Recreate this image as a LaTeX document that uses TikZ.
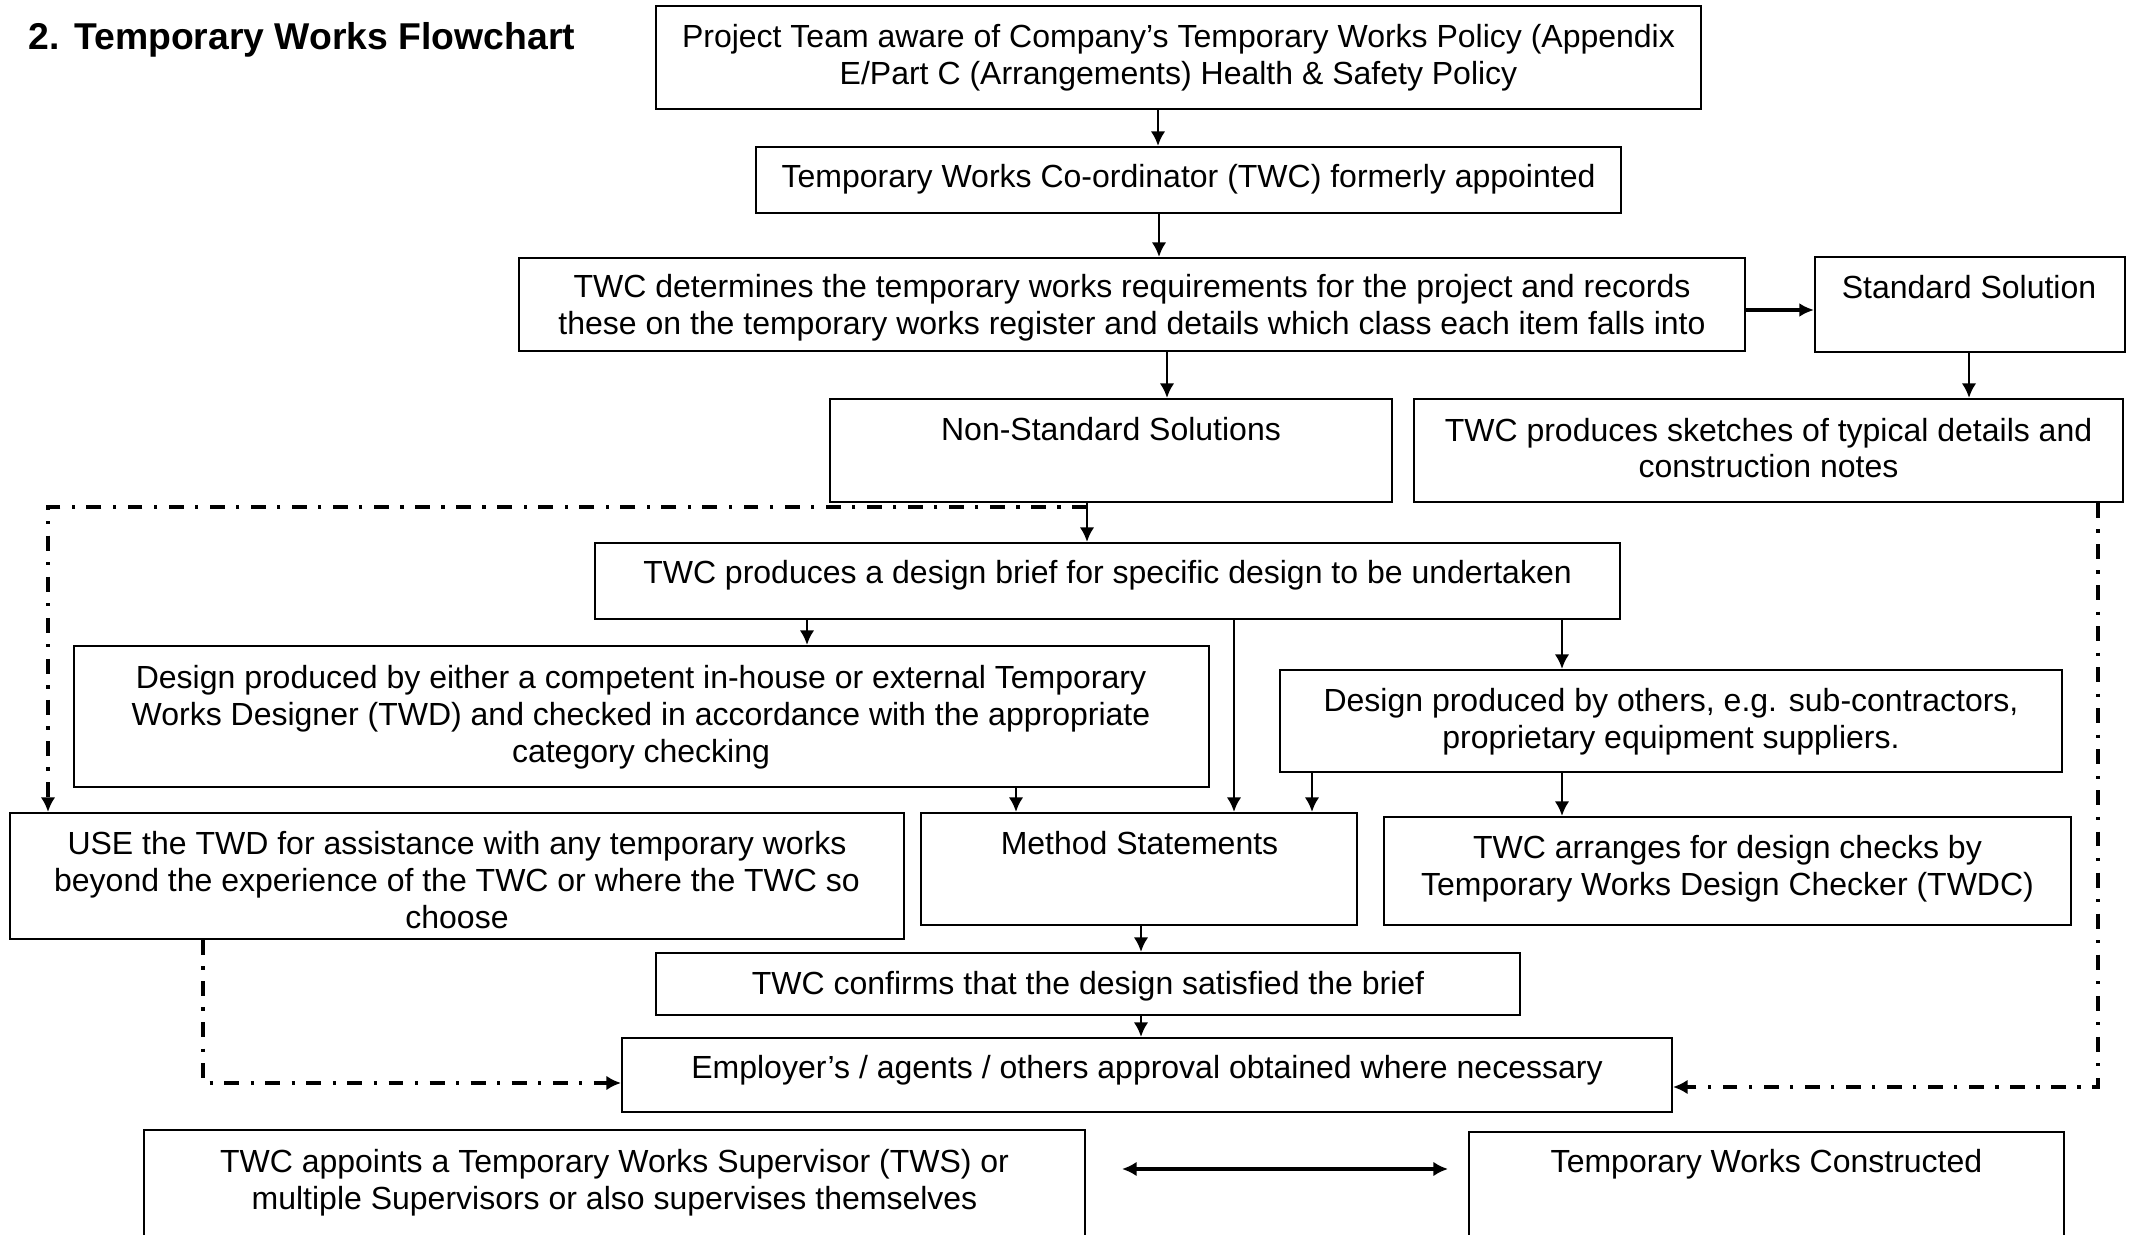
\documentclass[tikz,border=0pt]{standalone}
\usepackage{fontspec}
\setmainfont{Liberation Sans}
\usetikzlibrary{arrows.meta,fit}
\begin{document}
\begin{tikzpicture}[x=0.375pt,y=-0.375pt,
  box/.style={draw, line width=0.75pt, inner sep=0pt},
  txt/.style={font=\fontsize{12pt}{13.8pt}\selectfont, align=center, inner sep=0pt},
  arr/.style={line width=1.1pt, -{Latex[length=5.5pt,width=5.5pt]}},
  thk/.style={line width=1.5pt, -{Latex[length=5.5pt,width=5.2pt]}},
  dbl/.style={line width=1.5pt, {Latex[length=5.5pt,width=5.5pt]}-{Latex[length=5.5pt,width=5.5pt]}},
  dd/.style={line width=1.3pt, dash pattern=on 5.6pt off 4.3pt on 1.2pt off 4.3pt, -{Latex[length=5.5pt,width=5.5pt]}},
]
\useasboundingbox (0,0) rectangle (2136,1235);
\fill[white] (0,0) rectangle (2136,1235);
\clip (0,0) rectangle (2136,1235);

% title
\node[anchor=base west, inner sep=0pt, font=\fontsize{14pt}{16pt}\selectfont\bfseries] (title) at (28,50) {2.\hspace{5.5pt}Temporary Works Flowchart};

% boxes
\node[box, fit={(656,6) (1701,109)}] (b1) {};
\node[box, fit={(756,147) (1621,213)}] (b2) {};
\node[box, fit={(519,258) (1745,351)}] (b3) {};
\node[box, fit={(1815,257) (2125,352)}] (ss) {};
\node[box, fit={(830,399) (1392,502)}] (ns) {};
\node[box, fit={(1414,399) (2123,502)}] (sk) {};
\node[box, fit={(595,543) (1620,619)}] (db) {};
\node[box, fit={(74,646) (1209,787)}] (de) {};
\node[box, fit={(1280,670) (2062,772)}] (do) {};
\node[box, fit={(10,813) (904,939)}] (use) {};
\node[box, fit={(921,813) (1357,925)}] (ms) {};
\node[box, fit={(1384,817) (2071,925)}] (tw) {};
\node[box, fit={(656,953) (1520,1015)}] (tc) {};
\node[box, fit={(622,1038) (1672,1112)}] (ea) {};
\node[box, fit={(144,1130) (1085,1300)}] (tws) {};
\node[box, fit={(1469,1132) (2064,1300)}] (cons) {};

% texts
\node[txt] (t1) at (1178.5,58) {Project Team aware of Company’s Temporary Works Policy (Appendix\\E/Part C (Arrangements) Health \& Safety Policy};
\node[txt] (t2) at (1188.5,179) {Temporary Works Co-ordinator (TWC) formerly appointed};
\node[txt] (t3) at (1132,308) {TWC determines the temporary works requirements for the project and records\\these on the temporary works register and details which class each item falls into};
\node[txt] (tss) at (1969,287) {Standard Solution};
\node[txt] (tns) at (1111,429) {Non-Standard Solutions};
\node[txt] (tsk) at (1768.5,448) {TWC produces sketches of typical details and\\construction notes};
\node[txt] (tdb) at (1107.5,575) {TWC produces a design brief for specific design to be undertaken};
\node[txt] (tde) at (641,717) {Design produced by either a competent in-house or external Temporary\\Works Designer (TWD) and checked in accordance with the appropriate\\category checking};
\node[txt] (tdo) at (1671,721.5) {Design produced by others, e.g. sub-contractors,\\proprietary equipment suppliers.};
\node[txt] (tuse) at (457,880) {USE the TWD for assistance with any temporary works\\beyond the experience of the TWC or where the TWC so\\choose};
\node[txt] (tms) at (1139.5,843) {Method Statements};
\node[txt] (ttw) at (1727.5,868.5) {TWC arranges for design checks by\\Temporary Works Design Checker (TWDC)};
\node[txt] (ttc) at (1088,986.5) {TWC confirms that the design satisfied the brief};
\node[txt] (tea) at (1147,1070.5) {Employer’s / agents / others approval obtained where necessary};
\node[txt] (ttws) at (614.5,1182.5) {TWC appoints a Temporary Works Supervisor (TWS) or\\multiple Supervisors or also supervises themselves};
\node[txt] (tcons) at (1766.5,1164.5) {Temporary Works Constructed};

% helper coordinates
\coordinate (x1) at (1158,0);
\coordinate (x2) at (1159,0);
\coordinate (x3) at (1969,0);
\coordinate (x4) at (1167,0);
\coordinate (x5) at (1087,0);
\coordinate (x6) at (807,0);
\coordinate (x7) at (1234,0);
\coordinate (x8) at (1562,0);
\coordinate (x9) at (1016,0);
\coordinate (x10) at (1312,0);
\coordinate (x11) at (1141,0);
\coordinate (xl) at (48,0);
\coordinate (xr) at (2098,0);
\coordinate (xu) at (203,0);
\coordinate (j1) at (1087,507);
\coordinate (yr) at (0,1087);
\coordinate (yl) at (0,1083);
\coordinate (y3) at (0,310);
\coordinate (dl) at (1122,1169);
\coordinate (dr) at (1448,1169);

% connectors
\draw[arr] (b1.south -| x1) -- (b2.north -| x1);
\draw[arr] (b2.south -| x2) -- (b3.north -| x2);
\draw[thk] (b3.east |- y3) -- (ss.west |- y3);
\draw[arr] (ss.south -| x3) -- (sk.north -| x3);
\draw[arr] (b3.south -| x4) -- (ns.north -| x4);
\draw[arr] (ns.south -| x5) -- (db.north -| x5);
\draw[dd] (j1) -| (use.north -| xl);
\draw[arr] (db.south -| x6) -- (de.north -| x6);
\draw[arr] (db.south -| x7) -- (ms.north -| x7);
\draw[arr] (db.south -| x8) -- (do.north -| x8);
\draw[arr] (de.south -| x9) -- (ms.north -| x9);
\draw[arr] (do.south -| x10) -- (ms.north -| x10);
\draw[arr] (do.south -| x8) -- (tw.north -| x8);
\draw[arr] (ms.south -| x11) -- (tc.north -| x11);
\draw[arr] (tc.south -| x11) -- (ea.north -| x11);
\draw[dd] (sk.south -| xr) |- (ea.east |- yr);
\draw[dd] (use.south -| xu) |- (ea.west |- yl);
\draw[dbl] (dl) -- (dr);
\end{tikzpicture}
\end{document}
